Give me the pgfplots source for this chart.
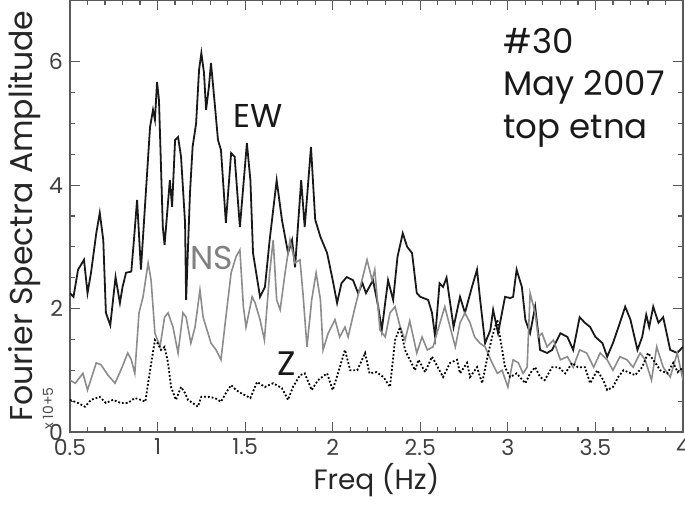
\documentclass[border=0pt]{standalone}
\usepackage{pgfplots}
\pgfplotsset{compat=1.18}
\usepackage{fontspec}
\setmainfont{Poppins}
\begin{document}
\begin{tikzpicture}
\begin{axis}[
  name=ax,
  scale only axis,
  width=306.5pt, height=216pt,
  xmin=0.5, xmax=4, ymin=0, ymax=7,
  xtick={0.5,1,1.5,2,2.5,3,3.5,4},
  xticklabels={0.5,1,1.5,2,2.5,3,3.5,4},
  minor x tick num=4,
  ytick={0,2,4,6},
  yticklabels={0,2,4,6},
  minor y tick num=3,
  tick align=inside,
  tick pos=both,
  major tick length=5pt, minor tick length=2.5pt,
  axis line style={black!65, line width=0.8pt},
  every tick/.style={black!65, line width=0.6pt},
  tick label style={font=\fontsize{11}{12}\selectfont, text=black!75},
  /pgf/number format/assume math mode=true,
  xlabel={Freq (Hz)},
  ylabel={Fourier Spectra Amplitude},
  xlabel style={at={(axis description cs:0.5,-0.111)}, anchor=center, font=\fontsize{14}{16}\selectfont, text=black!85},
  ylabel style={at={(axis description cs:-0.0734,0.5)}, anchor=center, font=\fontsize{15.8}{18}\selectfont, text=black!85},
  clip=true,
]
% EW
\addplot[black!90, line width=0.9pt] coordinates {
(0.50,2.25)(0.52,2.19)(0.546,2.63)(0.58,2.79)(0.60,2.25)(0.62,2.58)(0.65,3.22)(0.67,3.55)(0.69,3.11)(0.705,1.93)(0.73,1.73)(0.76,2.51)(0.785,2.09)(0.80,2.35)(0.82,2.58)(0.85,2.60)(0.865,3.11)(0.883,3.76)(0.905,2.63)(0.934,3.92)(0.957,4.94)(0.974,5.22)(0.985,5.06)(0.997,5.67)(1.008,5.38)(1.03,3.32)(1.04,3.03)(1.07,4.08)(1.083,3.65)(1.10,4.73)(1.117,4.78)(1.134,4.46)(1.157,3.39)(1.163,2.14)(1.185,3.87)(1.20,4.62)(1.22,5.00)(1.237,5.87)(1.25,6.14)(1.265,5.82)(1.277,5.22)(1.293,5.59)(1.305,5.98)(1.328,5.27)(1.345,4.73)(1.362,4.57)(1.39,3.39)(1.42,4.52)(1.44,4.46)(1.47,3.32)(1.51,4.68)(1.53,4.08)(1.545,2.90)(1.585,2.19)(1.613,2.35)(1.64,3.11)(1.68,4.08)(1.71,3.44)(1.745,2.90)(1.768,3.11)(1.785,2.67)(1.82,4.08)(1.84,3.32)(1.876,4.62)(1.90,3.44)(1.93,3.16)(1.968,2.90)(2.00,2.46)(2.025,2.09)(2.05,2.41)(2.08,2.51)(2.116,2.46)(2.145,2.25)(2.17,2.41)(2.19,2.25)(2.23,2.46)(2.26,2.03)(2.28,1.65)(2.316,2.46)(2.345,2.14)(2.37,2.84)(2.40,3.22)(2.425,3.00)(2.453,2.90)(2.48,2.25)(2.50,2.19)(2.545,2.14)(2.567,1.93)(2.585,1.54)(2.61,2.41)(2.63,2.35)(2.65,2.50)(2.69,1.70)(2.727,2.19)(2.755,1.93)(2.795,2.35)(2.824,2.63)(2.84,2.19)(2.87,1.44)(2.90,1.65)(2.916,1.98)(2.944,1.60)(2.984,2.19)(3.013,2.17)(3.03,2.19)(3.05,2.63)(3.08,2.35)(3.10,1.82)(3.127,1.60)(3.156,2.03)(3.184,1.33)(3.224,1.28)(3.253,1.33)(3.30,1.60)(3.34,1.54)(3.373,1.33)(3.41,1.86)(3.44,1.77)(3.47,1.70)(3.50,1.54)(3.54,1.44)(3.567,1.22)(3.60,1.44)(3.64,1.77)(3.67,2.03)(3.70,1.82)(3.74,1.33)(3.767,1.54)(3.79,1.90)(3.807,1.70)(3.83,2.03)(3.86,1.77)(3.887,1.86)(3.927,1.33)(3.967,1.28)(4.00,1.38)
};
% NS
\addplot[black!45, line width=0.8pt] coordinates {
(0.50,0.84)(0.53,0.79)(0.574,0.95)(0.60,0.68)(0.65,1.12)(0.677,1.09)(0.717,0.92)(0.757,0.79)(0.79,1.00)(0.83,1.28)(0.85,1.17)(0.87,0.95)(0.894,1.93)(0.917,2.19)(0.946,2.74)(0.963,2.46)(0.985,1.60)(1.014,1.38)(1.04,1.86)(1.06,1.93)(1.088,1.70)(1.117,1.28)(1.145,1.93)(1.163,1.86)(1.19,1.44)(1.214,1.70)(1.242,2.30)(1.26,1.86)(1.288,1.60)(1.305,1.44)(1.334,1.33)(1.362,1.17)(1.39,1.86)(1.42,2.58)(1.448,2.84)(1.47,2.95)(1.49,2.03)(1.505,1.70)(1.54,2.19)(1.557,2.09)(1.585,1.82)(1.61,1.49)(1.64,2.58)(1.66,3.11)(1.68,2.14)(1.70,1.98)(1.728,2.58)(1.756,3.11)(1.785,2.74)(1.813,2.79)(1.83,2.25)(1.853,1.38)(1.88,2.14)(1.905,2.58)(1.93,2.14)(1.945,1.33)(1.974,1.60)(2.013,1.82)(2.04,1.54)(2.07,1.70)(2.088,1.54)(2.128,2.03)(2.167,2.46)(2.196,2.79)(2.225,2.46)(2.24,2.63)(2.27,1.65)(2.30,1.54)(2.327,1.93)(2.356,2.03)(2.385,1.70)(2.413,1.49)(2.44,1.80)(2.48,1.28)(2.51,1.54)(2.54,1.33)(2.573,1.38)(2.60,1.65)(2.64,2.03)(2.67,1.70)(2.70,1.38)(2.727,1.77)(2.755,1.93)(2.784,1.77)(2.81,1.54)(2.84,1.44)(2.87,1.38)(2.91,1.12)(2.94,0.95)(2.967,1.00)(3.00,0.73)(3.03,1.17)(3.06,1.12)(3.087,0.95)(3.11,1.05)(3.127,2.25)(3.156,1.93)(3.173,1.54)(3.195,1.60)(3.224,1.38)(3.26,1.49)(3.30,1.17)(3.34,1.22)(3.373,1.05)(3.41,1.33)(3.45,1.28)(3.49,1.05)(3.527,1.28)(3.567,1.17)(3.60,1.00)(3.64,1.22)(3.68,1.17)(3.715,1.05)(3.755,1.28)(3.784,1.17)(3.82,0.84)(3.85,1.38)(3.887,1.05)(3.927,0.89)(3.967,1.28)(4.00,0.84)
};
% Z
\addplot[black, line width=0.9pt, densely dotted] coordinates {
(0.50,0.52)(0.546,0.47)(0.585,0.41)(0.62,0.52)(0.67,0.57)(0.705,0.47)(0.745,0.52)(0.79,0.47)(0.83,0.47)(0.87,0.55)(0.905,0.52)(0.93,0.49)(0.957,1.00)(0.985,1.49)(1.00,1.44)(1.02,1.33)(1.04,1.38)(1.06,1.12)(1.077,0.73)(1.105,0.52)(1.134,0.73)(1.157,0.63)(1.174,0.52)(1.20,0.47)(1.23,0.41)(1.25,0.57)(1.288,0.57)(1.328,0.55)(1.362,0.49)(1.39,0.63)(1.42,0.76)(1.448,0.68)(1.476,0.63)(1.53,0.55)(1.568,0.81)(1.613,0.73)(1.66,0.79)(1.71,0.71)(1.745,0.52)(1.773,0.73)(1.813,0.92)(1.84,0.95)(1.88,0.68)(1.916,0.84)(1.968,0.95)(2.00,0.68)(2.03,0.95)(2.07,1.33)(2.10,1.00)(2.14,1.00)(2.185,1.28)(2.21,0.95)(2.25,0.97)(2.29,0.89)(2.327,0.73)(2.356,1.49)(2.385,1.70)(2.413,1.33)(2.44,1.17)(2.47,1.00)(2.49,1.17)(2.527,0.97)(2.567,1.22)(2.60,1.05)(2.63,0.89)(2.67,1.12)(2.71,1.17)(2.727,0.95)(2.767,1.12)(2.784,0.89)(2.824,1.05)(2.853,0.79)(2.88,1.17)(2.91,1.54)(2.94,1.82)(2.955,1.54)(2.984,1.05)(3.013,0.89)(3.05,0.95)(3.10,0.79)(3.127,0.95)(3.156,1.05)(3.184,0.89)(3.21,0.84)(3.253,1.05)(3.29,1.05)(3.327,0.95)(3.367,1.12)(3.40,1.05)(3.44,1.05)(3.47,0.79)(3.51,1.00)(3.545,0.84)(3.567,0.68)(3.60,0.73)(3.63,0.89)(3.66,1.00)(3.687,0.97)(3.727,0.92)(3.767,1.05)(3.80,1.28)(3.83,1.17)(3.87,1.00)(3.91,0.95)(3.944,1.12)(3.97,0.97)(4.00,1.05)
};
\node[anchor=base west, inner sep=0pt, font=\fontsize{16.5}{18}\selectfont, text=black!90] at (axis cs:1.43,4.94) {EW};
\node[anchor=base west, inner sep=0pt, font=\fontsize{16.5}{18}\selectfont, text=black!50] at (axis cs:1.185,2.63) {NS};
\node[anchor=base west, inner sep=0pt, font=\fontsize{17}{18}\selectfont, text=black!90] at (axis cs:1.682,0.92) {Z};
\node[anchor=base west, inner sep=0pt, font=\fontsize{17}{18}\selectfont, text=black!90] at (axis cs:2.973,6.14) {\#30};
\node[anchor=base west, inner sep=0pt, font=\fontsize{17}{18}\selectfont, text=black!90] at (axis cs:2.973,5.46) {May 2007};
\node[anchor=base west, inner sep=0pt, font=\fontsize{17}{18}\selectfont, text=black!90] at (axis cs:2.973,4.75) {top etna};
\end{axis}
\node[rotate=90, anchor=west, inner sep=0pt, font=\fontsize{7}{8}\selectfont, text=black!70] at ([xshift=-11pt,yshift=1pt]ax.south west) {x 10+5};
\pgfresetboundingbox
\path[use as bounding box] ([xshift=-35pt,yshift=-36.5pt]ax.south west) rectangle ([xshift=1pt]ax.north east);
\end{tikzpicture}
\end{document}
